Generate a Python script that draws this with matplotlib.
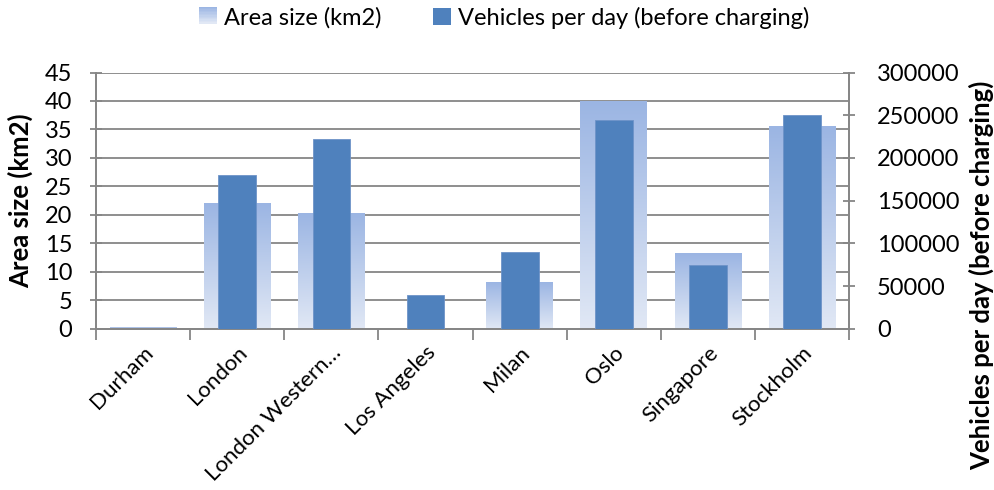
import numpy as np
import matplotlib
matplotlib.use("Agg")
from matplotlib import pyplot as plt
from matplotlib.patches import Rectangle
from matplotlib.legend_handler import HandlerBase
from matplotlib.colors import LinearSegmentedColormap

plt.rcParams['font.family'] = ['Lato', 'DejaVu Sans']

cities = ["Durham", "London", "London Western\u2026", "Los Angeles", "Milan",
          "Oslo", "Singapore", "Stockholm"]
area_km2 = [0.2, 22.0, 20.2, 0.0, 8.2, 40.0, 13.2, 35.5]
vehicles = [0, 180000, 222000, 40000, 90000, 245000, 75000, 250000]

TOP_C = "#9BB5E3"
BOT_C = "#E1E8F5"
DARK = "#4F81BD"
GRID = "#868686"
FS = 17
XFS = 16
LFS = 18.5

grad_cmap = LinearSegmentedColormap.from_list("grad", [BOT_C, TOP_C])


class GradientHandler(HandlerBase):
    # legend key drawn as a stack of thin strips, top dark -> bottom light
    def create_artists(self, legend, orig_handle, xd, yd, width, height, fontsize, trans):
        n = 12
        arts = []
        for i in range(n):
            c = grad_cmap(1 - i / (n - 1))
            r = Rectangle((xd, yd + height * (n - 1 - i) / n), width, height / n + 0.3,
                          facecolor=c, edgecolor="none", transform=trans)
            arts.append(r)
        return arts


fig = plt.figure(figsize=(9.95, 4.9), dpi=100)
ax1 = fig.add_axes([0.0965, 0.329, 0.757, 0.523])
ax2 = ax1.twinx()

x = np.arange(len(cities))
w_area = 0.71
w_veh = 0.40

grad = np.linspace(0, 1, 256).reshape(-1, 1)
for xi, h in zip(x, area_km2):
    if h <= 0:
        continue
    ax1.imshow(grad, cmap=grad_cmap, origin="lower", aspect="auto",
               extent=[xi - w_area / 2, xi + w_area / 2, 0, h], zorder=2,
               interpolation="bilinear")

ax1.set_xlim(-0.5, len(cities) - 0.5)
ax1.set_ylim(0, 45)
ax1.set_yticks(range(0, 46, 5))
ax1.yaxis.grid(True, color=GRID, linewidth=1.3, zorder=0)
ax1.set_axisbelow(True)

ax2.bar(x, vehicles, width=w_veh, color=DARK, edgecolor="#6E93C8", linewidth=0.6, zorder=3)
ax2.set_ylim(0, 300000)
ax2.set_yticks(range(0, 300001, 50000))

ax1.set_xticks(np.arange(-0.5, len(cities), 1), minor=False)
ax1.set_xticklabels([])
ax1.set_xticks(x, minor=True)
ax1.set_xticklabels(cities, minor=True, rotation=45, ha="right", rotation_mode="anchor",
                    fontsize=XFS)
ax1.tick_params(axis="x", which="minor", length=0, pad=10)
ax1.tick_params(axis="x", which="major", length=8, width=1.3, color=GRID, direction="out")
ax1.tick_params(axis="y", length=8, width=1.3, color=GRID, direction="inout", labelsize=FS, pad=13)
ax2.tick_params(axis="y", length=8, width=1.3, color=GRID, direction="inout", labelsize=FS, pad=16)

for ax in (ax1, ax2):
    for s in ax.spines.values():
        s.set_color(GRID)
        s.set_linewidth(1.3)
    ax.spines["top"].set_visible(False)

ax1.set_ylabel("Area size (km2)", fontsize=LFS, fontweight="bold")
ax1.yaxis.set_label_coords(-0.084, 0.5)
ax2.set_ylabel("Vehicles per day (before charging)", fontsize=LFS, fontweight="bold",
               rotation=90)
ax2.yaxis.set_label_coords(1.159, 0.21)

h_area = Rectangle((0, 0), 1, 1)
h_veh = Rectangle((0, 0), 1, 1, facecolor=DARK)
fig.legend([h_area, h_veh], ["Area size (km2)", "Vehicles per day (before charging)"],
           handler_map={h_area: GradientHandler()},
           loc="upper center", bbox_to_anchor=(0.507, 1.03), ncol=2, frameon=False,
           fontsize=FS, handlelength=0.75, handleheight=0.75, handletextpad=0.3,
           columnspacing=2.2)

fig.savefig("out.png", dpi=100)
